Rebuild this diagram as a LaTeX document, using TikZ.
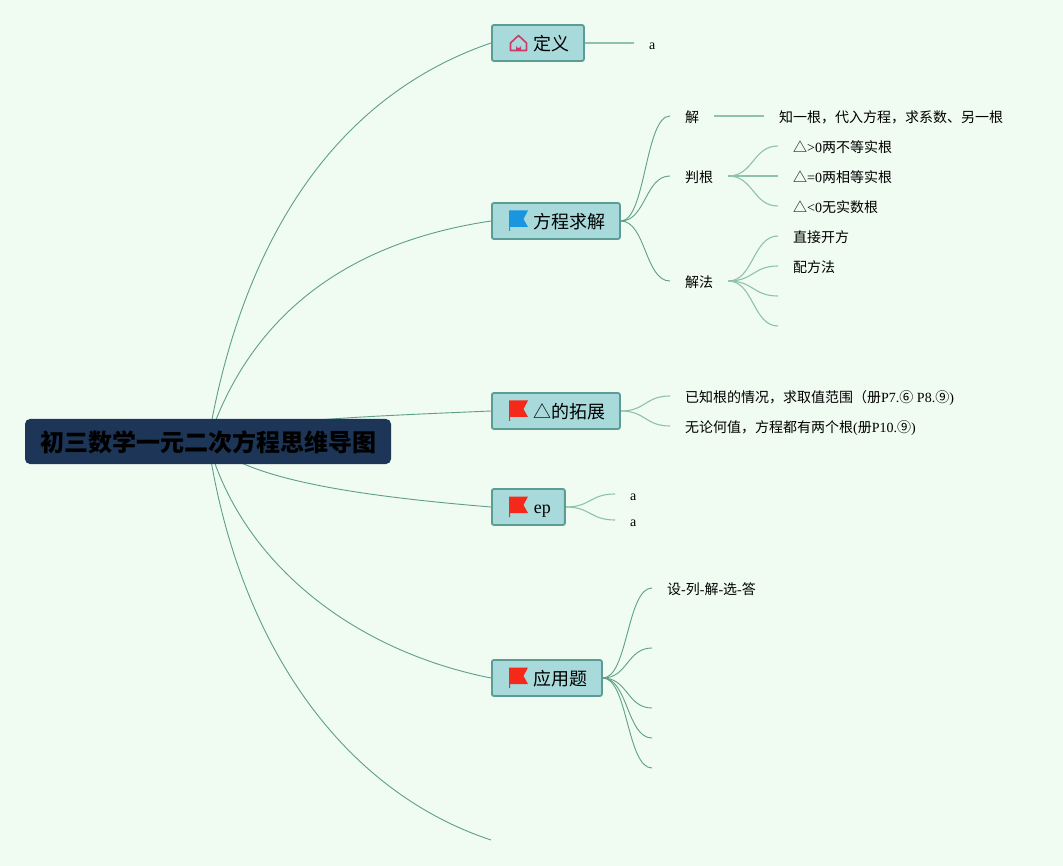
\documentclass[tikz,border=0pt]{standalone}
\usepackage{fontspec}
\setmainfont{Liberation Serif}
\newfontfamily\cjk{Noto Sans CJK SC}
\usetikzlibrary{backgrounds}
\definecolor{bgc}{HTML}{F0FBF1}
\definecolor{boxfill}{HTML}{A8DADC}
\definecolor{boxline}{HTML}{5B9C94}
\definecolor{rootfill}{HTML}{1D3557}
\definecolor{mainline}{HTML}{5F9F8A}
\definecolor{leafline}{HTML}{8FC2AA}
\definecolor{flagred}{HTML}{F5291A}
\definecolor{flagblue}{HTML}{1A95E0}
\definecolor{housec}{HTML}{CC3A6A}
\tikzset{
  x=1pt,y=-1pt,
  rootbox/.style={draw=none,fill=rootfill,rounded corners=5pt,minimum width=366pt,minimum height=45pt,inner sep=0pt,text height=20pt,text depth=0pt,font=\fontsize{24}{24}\selectfont\bfseries\cjk,text=black},
  topicbox/.style={draw=boxline,line width=1.8pt,fill=boxfill,rounded corners=2pt,minimum height=36pt,inner xsep=14pt,inner ysep=0pt,anchor=west,text height=15pt,text depth=0pt,font=\fontsize{18}{18}\selectfont},
  leaf/.style={inner xsep=15pt,inner ysep=0pt,anchor=west,text height=13pt,text depth=0pt,font=\fontsize{14}{14}\selectfont},
  mainconn/.style={draw=mainline,line width=.9pt},
  leafconn/.style={draw=leafline,line width=1.1pt},
}
\newcommand{\flagicon}[2]{%
  \begin{scope}[shift={(#1.west)}]
    \fill[#2] (18,-10.5) -- (37,-10.5) -- (32.5,-2) -- (37,6) -- (19,6) -- (19,10) -- (18,10) -- cycle;
  \end{scope}}
\begin{document}
\begin{tikzpicture}
\useasboundingbox (0,0) rectangle (1063,866);

\node[rootbox] (root) at (208,441.5) {\hspace*{1.5pt}初三数学一元二次方程思维导图};
\coordinate (open) at (491,840);

\node[topicbox] (def) at (491,43) {\hspace*{28pt}{\cjk 定义}};
\node[topicbox] (solve) at (491,221) {\hspace*{28pt}{\cjk 方程求解}};
\node[topicbox] (ext) at (491,411) {\hspace*{28pt}{\cjk △的拓展}};
\node[topicbox] (ep) at (491,507) {\hspace*{28pt}\raisebox{1.5pt}{ep}};
\node[topicbox] (app) at (491,678) {\hspace*{28pt}{\cjk 应用题}};

\node[leaf] (defa) at (634,43) {a};
\node[leaf] (jie) at (670,116) {\cjk 解};
\node[leaf] (pan) at (670,176) {\cjk 判根};
\node[leaf] (fa) at (670,281) {\cjk 解法};
\node[leaf] (zhi) at (764,116) {\cjk 知一根，代入方程，求系数、另一根};
\node[leaf] (p1) at (778,146) {{\cjk △}>0{\cjk 两不等实根}};
\node[leaf] (p2) at (778,176) {{\cjk △}=0{\cjk 两相等实根}};
\node[leaf] (p3) at (778,206) {{\cjk △}<0{\cjk 无实数根}};
\node[leaf] (f1) at (778,236) {\cjk 直接开方};
\node[leaf] (f2) at (778,266) {\cjk 配方法};
\coordinate (f3) at (778,296);
\coordinate (f4) at (778,326);
\node[leaf] (e1) at (670,396) {{\cjk 已知根的情况，求取值范围（册}P7.{\cjk ⑥} P8.{\cjk ⑨})};
\node[leaf] (e2) at (670,426) {{\cjk 无论何值，方程都有两个根}({\cjk 册}P10.{\cjk ⑨})};
\node[leaf] (ep1) at (615,494) {a};
\node[leaf] (ep2) at (615,520) {a};
\node[leaf] (a1) at (652,588) {{\cjk 设}-{\cjk 列}-{\cjk 解}-{\cjk 选}-{\cjk 答}};
\coordinate (a2) at (652,648);
\coordinate (a3) at (652,708);
\coordinate (a4) at (652,738);
\coordinate (a5) at (652,768);

\begin{scope}[on background layer]
  \fill[bgc] (0,0) rectangle (1063,866);
  \draw[mainconn] (root.center) .. controls (235,280) and (310,105) .. (def.west);
  \draw[mainconn] (root.center) .. controls (245,330) and (330,245) .. (solve.west);
  \draw[mainconn] (root.center) .. controls (240,421) and (350,417) .. (ext.west);
  \draw[mainconn] (root.center) .. controls (240,473) and (320,493) .. (ep.west);
  \draw[mainconn] (root.center) .. controls (240,560) and (350,650) .. (app.west);
  \draw[mainconn] (root.center) .. controls (237,640) and (340,790) .. (open);
  \draw[leafconn] (def.east) -- (defa.west);
  \foreach \t in {jie,pan,fa}
    \draw[mainconn] (solve.east) .. controls +(25,0) and +(-25,0) .. (\t.west);
  \draw[leafconn] (jie.east) -- (zhi.west);
  \foreach \t in {p1,p2,p3}
    \draw[leafconn] (pan.east) .. controls +(25,0) and +(-25,0) .. (\t.west);
  \foreach \t in {f1,f2}
    \draw[leafconn] (fa.east) .. controls +(25,0) and +(-25,0) .. (\t.west);
  \foreach \t in {f3,f4}
    \draw[leafconn] (fa.east) .. controls +(25,0) and +(-25,0) .. (\t);
  \foreach \t in {e1,e2}
    \draw[leafconn] (ext.east) .. controls +(25,0) and +(-25,0) .. (\t.west);
  \foreach \t in {ep1,ep2}
    \draw[leafconn] (ep.east) .. controls +(25,0) and +(-25,0) .. (\t.west);
  \draw[mainconn] (app.east) .. controls +(25,0) and +(-25,0) .. (a1.west);
  \foreach \t in {a2,a3,a4,a5}
    \draw[mainconn] (app.east) .. controls +(25,0) and +(-25,0) .. (\t);
\end{scope}

\begin{scope}[shift={(def.west)}]
  \draw[housec,line width=1.6pt,line join=round] (19.5,0) -- (27.5,-7.5) -- (35.5,0) -- (35.5,7.5) -- (19.5,7.5) -- cycle;
  \fill[housec] (25,8) -- (25,2.5) arc[start angle=180,end angle=0,radius=2.5] -- (30,8) -- cycle;
\end{scope}
\flagicon{solve}{flagblue}
\flagicon{ext}{flagred}
\flagicon{ep}{flagred}
\flagicon{app}{flagred}
\end{tikzpicture}
\end{document}
